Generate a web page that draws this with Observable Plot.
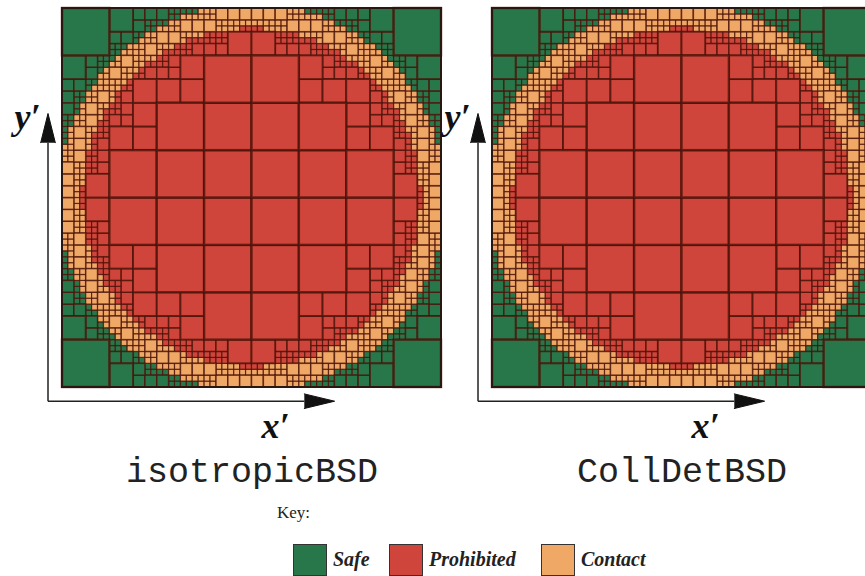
<!DOCTYPE html>
<html>
<head>
<meta charset="utf-8">
<script src="https://cdn.jsdelivr.net/npm/d3@7"></script>
<script src="https://cdn.jsdelivr.net/npm/@observablehq/plot@0.6"></script>
<style>
  html, body { margin: 0; padding: 0; background: #fff; overflow: hidden; }
  #wrap { position: relative; width: 865px; height: 576px; }
  #chart { position: absolute; left: 0; top: 0; }
  .key { position: absolute; left: 277px; top: 503px; font-family: "Liberation Serif", serif; font-size: 17px; color: #222; }
  .item { position: absolute; top: 543px; height: 33px; display: flex; align-items: center; }
  .sw { width: 34px; height: 32px; border: 1px solid #333; box-sizing: border-box; margin-right: 6px; }
  .lab { font-family: "Liberation Serif", serif; font-weight: bold; font-style: italic; font-size: 20px; color: #222; }
</style>
</head>
<body>
<div id="wrap"><div id="chart"></div></div>
<script>
// ---- data ----
const categories = ["Safe", "Prohibited", "Contact"];
const categoryColors = ["#27774a", "#d0453b", "#f0a866"];
const panelNames = ["isotropicBSD", "CollDetBSD"];
const innerRadius = [0.446, 0.446];   // prohibited disc radius (panel units)
const outerRadius = [0.512, 0.512];   // outer edge of contact ring
const minDepth = [3, 3];              // 8x8 base grid
const maxDepth = [6, 6];
const samplesPerSide = [5, 5];
const axisLabels = ["x\u2032", "y\u2032"];

// ---- layout (pixels) ----
const W = 865, H = 500;
const unit = 379;            // pixels per panel unit
const originX = 62, originY = 387;
const panelGap = 430 / unit; // offset of second panel
const panelX = panelNames.map((d, i) => i * panelGap);

// ---- quadtree decomposition ----
function quadtree(p) {
  const cells = [];
  const rIn = innerRadius[p], rOut = outerRadius[p], n = samplesPerSide[p];
  const off = panelX[p];
  const classOf = (x, y) => {
    const d = Math.hypot(x - 0.5, y - 0.5);
    return d >= rOut ? 0 : d <= rIn ? 1 : 2;
  };
  (function rec(x0, y0, s, lev) {
    let cls = null;
    if (lev >= minDepth[p]) {
      if (lev >= maxDepth[p]) cls = classOf(x0 + s / 2, y0 + s / 2);
      else {
        const c0 = classOf(x0, y0);
        let same = true;
        for (let i = 0; i < n && same; i++) for (let j = 0; j < n && same; j++) {
          if (classOf(x0 + s * i / (n - 1), y0 + s * j / (n - 1)) !== c0) same = false;
        }
        if (same) cls = c0;
      }
    }
    if (cls !== null) {
      cells.push({panel: p, level: lev, x1: x0 + off, x2: x0 + s + off, y1: y0, y2: y0 + s, cls: categories[cls]});
    } else {
      const h = s / 2;
      rec(x0, y0, h, lev + 1); rec(x0 + h, y0, h, lev + 1);
      rec(x0, y0 + h, h, lev + 1); rec(x0 + h, y0 + h, h, lev + 1);
    }
  })(0, 0, 1, 0);
  return cells;
}
const cells = panelNames.flatMap((d, i) => quadtree(i));

const levelStroke = {3: 2.4, 4: 1.9, 5: 1.5, 6: 1.2, 7: 0.9};
const levels = [7, 6, 5, 4, 3];
const cellMarks = levels.map(l => Plot.rect(cells.filter(c => c.level === l), {
  x1: "x1", x2: "x2", y1: "y1", y2: "y2", fill: "cls",
  stroke: "#4a1208", strokeOpacity: 0.78, strokeWidth: levelStroke[l], inset: 0
}));

// axis arrows in panel units
const ax = -14.5 / unit, ay = -13.7 / unit;
const xTip = 0.718, xBase = 0.638, yTip = 0.723, yBase = 0.646, hw = 7.3 / unit;
const axisLines = panelX.flatMap((o, i) => [
  {id: i + "v", x1: o + ax, y1: ay, x2: o + ax, y2: yBase},
  {id: i + "h", x1: o + ax, y1: ay, x2: o + xBase, y2: ay}
]);
const heads = panelX.flatMap((o, i) => [
  {id: i + "v", x: o + ax - hw, y: yBase}, {id: i + "v", x: o + ax, y: yTip}, {id: i + "v", x: o + ax + hw, y: yBase},
  {id: i + "h", x: o + xBase, y: ay - hw}, {id: i + "h", x: o + xTip, y: ay}, {id: i + "h", x: o + xBase, y: ay + hw}
]);

const chart = Plot.plot({
  width: W, height: H,
  marginLeft: 0, marginRight: 0, marginTop: 0, marginBottom: 0,
  x: {domain: [-originX / unit, (W - originX) / unit], range: [0, W], axis: null},
  y: {domain: [(originY - H) / unit, originY / unit], range: [H, 0], axis: null},
  color: {domain: categories, range: categoryColors},
  style: {background: "white"},
  marks: [
    ...cellMarks,
    Plot.rect(panelNames, {x1: (d, i) => panelX[i], x2: (d, i) => panelX[i] + 1, y1: 0, y2: 1, fill: "none", stroke: "#2a1810", strokeWidth: 2}),
    Plot.link(axisLines, {x1: "x1", y1: "y1", x2: "x2", y2: "y2", stroke: "#222", strokeWidth: 1.5}),
    Plot.line(heads, {x: "x", y: "y", z: "id", fill: "#111", stroke: "#111", strokeWidth: 1}),
    Plot.text(panelNames, {x: (d, i) => panelX[i] + 0.5, y: -0.219, text: d => d, fontFamily: "Liberation Mono, monospace", fontSize: 35, fill: "#222"}),
    Plot.text(panelNames, {x: (d, i) => panelX[i] + 0.562, y: -0.1016, text: () => axisLabels[0], fontFamily: "Liberation Serif, serif", fontWeight: "bold", fontStyle: "italic", fontSize: 36, fill: "#111"}),
    Plot.text(panelNames, {x: (d, i) => panelX[i] - 0.0923, y: 0.7137, text: () => axisLabels[1], fontFamily: "Liberation Serif, serif", fontWeight: "bold", fontStyle: "italic", fontSize: 36, fill: "#111"})
  ]
});
document.getElementById("chart").appendChild(chart);

// legend
const wrap = document.getElementById("wrap");
const key = document.createElement("div");
key.className = "key"; key.textContent = "Key:";
wrap.appendChild(key);
const legendLeft = [293, 389, 541];
categories.forEach((c, i) => {
  const it = document.createElement("div");
  it.className = "item"; it.style.left = legendLeft[i] + "px";
  const sw = document.createElement("div");
  sw.className = "sw"; sw.style.background = categoryColors[i];
  const lab = document.createElement("span");
  lab.className = "lab"; lab.textContent = c;
  it.appendChild(sw); it.appendChild(lab);
  wrap.appendChild(it);
});
</script>
</body>
</html>
